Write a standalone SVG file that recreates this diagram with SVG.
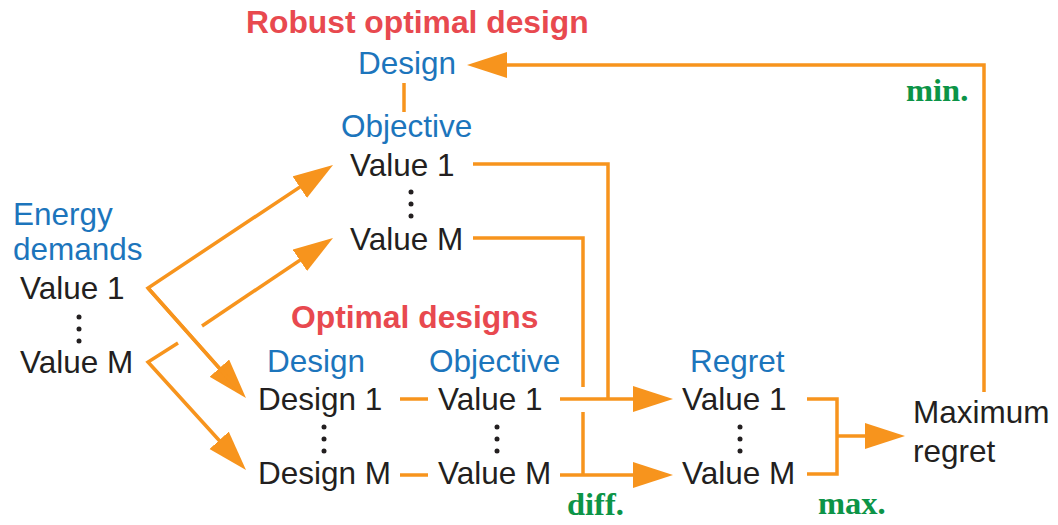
<svg xmlns="http://www.w3.org/2000/svg" width="1058" height="525" viewBox="0 0 1058 525">
<style>
text{font-family:"Liberation Sans",Arial,sans-serif;font-size:31.5px;fill:#231F20}
.b{fill:#1C75BC}
.r{fill:#E8494F;font-weight:bold;font-size:31.8px}
.g{font-family:"Liberation Serif","Times New Roman",serif;font-weight:bold;font-size:32.5px;fill:#0C9447}
.c{fill:none;stroke:#F7941D;stroke-width:3.5;stroke-linejoin:miter;stroke-linecap:butt}
.dot{fill:#231F20}
</style>
<defs>
<marker id="ah" markerUnits="userSpaceOnUse" markerWidth="42" markerHeight="28" refX="33" refY="13" orient="auto" viewBox="0 0 42 28">
<path d="M0,0 L40,13 L0,26 z" fill="#F7941D"/>
</marker>
</defs>
<rect width="1058" height="525" fill="#ffffff"/>

<g id="title-robust"><text class="r" x="246" y="33">Robust optimal design</text></g>
<g id="robust-design"><text class="b" x="358" y="74">Design</text></g>
<g id="robust-objective"><text class="b" x="341" y="137">Objective</text></g>
<g id="robust-value1"><text x="350" y="176">Value 1</text></g>
<g id="robust-dots"><circle class="dot" cx="411" cy="192" r="2.5"/><circle class="dot" cx="411" cy="204" r="2.5"/><circle class="dot" cx="411" cy="216" r="2.5"/></g>
<g id="robust-valueM"><text x="350" y="250">Value M</text></g>

<g id="energy-demands"><text class="b" x="13" y="225">Energy</text><text class="b" x="13" y="260">demands</text></g>
<g id="energy-value1"><text x="20" y="299">Value 1</text></g>
<g id="energy-dots"><circle class="dot" cx="79" cy="317" r="2.5"/><circle class="dot" cx="79" cy="329" r="2.5"/><circle class="dot" cx="79" cy="341" r="2.5"/></g>
<g id="energy-valueM"><text x="20" y="373">Value M</text></g>

<g id="title-optimal"><text class="r" x="291" y="328">Optimal designs</text></g>
<g id="opt-design-head"><text class="b" x="267" y="372">Design</text></g>
<g id="opt-objective-head"><text class="b" x="429" y="372">Objective</text></g>
<g id="opt-design1"><text x="258" y="410">Design 1</text></g>
<g id="opt-design-dots"><circle class="dot" cx="324" cy="427" r="2.5"/><circle class="dot" cx="324" cy="439" r="2.5"/><circle class="dot" cx="324" cy="451" r="2.5"/></g>
<g id="opt-designM"><text x="258" y="484">Design M</text></g>
<g id="opt-value1"><text x="438" y="410">Value 1</text></g>
<g id="opt-value-dots"><circle class="dot" cx="497" cy="427" r="2.5"/><circle class="dot" cx="497" cy="439" r="2.5"/><circle class="dot" cx="497" cy="451" r="2.5"/></g>
<g id="opt-valueM"><text x="438" y="484">Value M</text></g>

<g id="regret-head"><text class="b" x="690" y="372">Regret</text></g>
<g id="regret-value1"><text x="682" y="410">Value 1</text></g>
<g id="regret-dots"><circle class="dot" cx="740" cy="427" r="2.5"/><circle class="dot" cx="740" cy="439" r="2.5"/><circle class="dot" cx="740" cy="451" r="2.5"/></g>
<g id="regret-valueM"><text x="682" y="484">Value M</text></g>

<g id="max-regret"><text x="913" y="423">Maximum</text><text x="913" y="462">regret</text></g>

<g id="labels">
<text class="g" x="567" y="515">diff.</text>
<text class="g" x="818" y="514">max.</text>
<text class="g" x="906" y="101">min.</text>
</g>

<g id="connectors">
<path class="c" d="M404,83 V112"/>
<path class="c" d="M473,164 H608 V399"/>
<path class="c" d="M473,238 H583 V387"/>
<path class="c" d="M583,412 V475"/>
<path class="c" d="M560,399 H666" marker-end="url(#ah)"/>
<path class="c" d="M560,475 H666" marker-end="url(#ah)"/>
<path class="c" d="M400,399 H428"/>
<path class="c" d="M400,475 H428"/>
<path class="c" d="M807,399 H837 V474 H807"/>
<path class="c" d="M837,436 H898" marker-end="url(#ah)"/>
<path class="c" d="M984,392 V65 H474" marker-end="url(#ah)"/>
<path class="c" d="M148,288 L241.3,392.8" marker-end="url(#ah)"/>
<path class="c" d="M241.3,392.8 L148,288 L327.2,168.9" marker-end="url(#ah)"/>
<path class="c" d="M202,326 L327.2,241.9" marker-end="url(#ah)"/>
<path class="c" d="M178,343 L148,362 L241.3,464.8" marker-end="url(#ah)"/>
</g>
</svg>
